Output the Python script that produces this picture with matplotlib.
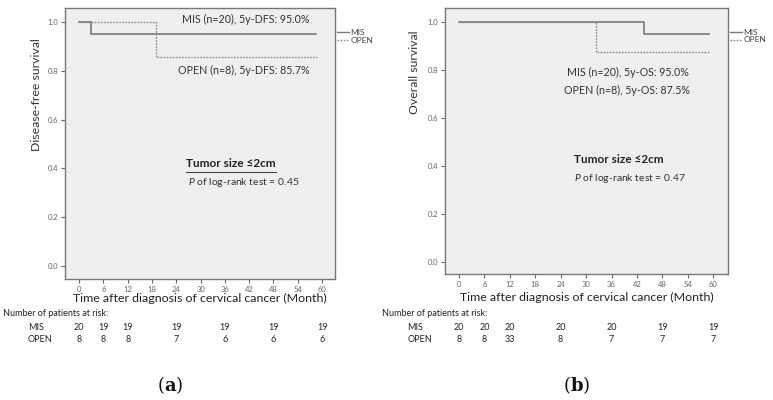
import matplotlib
matplotlib.use("Agg")
import matplotlib.pyplot as plt
from matplotlib.lines import Line2D
import matplotlib.transforms as mtransforms

plt.rcParams['font.family'] = ['Lato', 'DejaVu Sans']
plt.rcParams['mathtext.fontset'] = 'custom'
plt.rcParams['mathtext.it'] = 'Lato:italic'
plt.rcParams['mathtext.bf'] = 'DejaVu Serif:bold'
plt.rcParams['mathtext.rm'] = 'DejaVu Serif'

# survival curves (month, survival)
dfs_mis_t = [0, 3, 58.5]
dfs_mis_s = [1.0, 0.95, 0.95]
dfs_open_t = [0, 19, 58.8]
dfs_open_s = [1.0, 0.857, 0.857]

os_mis_t = [0, 43.7, 59]
os_mis_s = [1.0, 0.95, 0.95]
os_open_t = [0, 32.4, 59]
os_open_s = [1.0, 0.875, 0.875]

x_ticks = [0, 6, 12, 18, 24, 30, 36, 42, 48, 54, 60]
y_ticks = [0.0, 0.2, 0.4, 0.6, 0.8, 1.0]

# number at risk
risk_months = [0, 6, 12, 24, 36, 48, 60]
dfs_risk_mis = [20, 19, 19, 19, 19, 19, 19]
dfs_risk_open = [8, 8, 8, 7, 6, 6, 6]
os_risk_mis = [20, 20, 20, 20, 20, 19, 19]
os_risk_open = [8, 8, 33, 8, 7, 7, 7]

panels = [
    dict(rect=[0.0841, 0.3025, 0.3493, 0.6775], ylabel="Disease-free survival",
         ylab_xy=(-0.085, 0.68), xlab_y=-0.052,
         mis=(dfs_mis_t, dfs_mis_s), opn=(dfs_open_t, dfs_open_s),
         xlim=(-3.5, 63.2), ylim=(-0.053, 1.057),
         mis_txt="MIS (n=20), 5y-DFS: 95.0%", mis_pos=(57, 1.008, 'right'),
         open_txt="OPEN (n=8), 5y-DFS: 85.7%", open_pos=(57, 0.803, 'right'),
         tumor_pos=(37.5, 0.421), p_txt="0.45", p_pos=(40.7, 0.343), underline=True,
         risk_mis=dfs_risk_mis, risk_open=dfs_risk_open,
         head_x=0.004, lab_x=0.036, tag="a", tag_x=0.22),
    dict(rect=[0.5757, 0.315, 0.3661, 0.665], ylabel="Overall survival",
         ylab_xy=(-0.088, 0.76), xlab_y=-0.068,
         mis=(os_mis_t, os_mis_s), opn=(os_open_t, os_open_s),
         xlim=(-3.3, 63.5), ylim=(-0.05, 1.058),
         mis_txt="MIS (n=20), 5y-OS: 95.0%", mis_pos=(39.8, 0.79, 'center'),
         open_txt="OPEN (n=8), 5y-OS: 87.5%", open_pos=(39.7, 0.7125, 'center'),
         tumor_pos=(37.7, 0.425), p_txt="0.47", p_pos=(40.4, 0.346), underline=False,
         risk_mis=os_risk_mis, risk_open=os_risk_open,
         head_x=0.494, lab_x=0.527, tag="b", tag_x=0.746),
]

fig = plt.figure(figsize=(7.73, 4.0), dpi=100)

for p in panels:
    ax = fig.add_axes(p['rect'])
    ax.set_facecolor('#efefef')
    for sp in ax.spines.values():
        sp.set_color('#777777')
        sp.set_linewidth(1.0)

    ax.step(p['mis'][0], p['mis'][1], where='post', color='#7a7a7a', lw=1.2)
    ax.step(p['opn'][0], p['opn'][1], where='post', color='#8a8a8a', lw=1.0,
            linestyle=(0, (1.2, 1.0)))

    ax.set_xlim(*p['xlim'])
    ax.set_ylim(*p['ylim'])
    ax.set_xticks(x_ticks)
    ax.set_yticks(y_ticks)
    ax.set_yticklabels([f"{v:.1f}" for v in y_ticks])
    ax.tick_params(length=3, width=0.8, color='#666666', labelsize=5.5,
                   labelcolor='#666666', pad=2)

    ax.set_ylabel(p['ylabel'], fontsize=8.8, color='#333333')
    ax.yaxis.set_label_coords(*p['ylab_xy'])
    ax.set_xlabel("Time after diagnosis of cervical cancer (Month)", fontsize=8.9,
                  color='#222222')
    ax.xaxis.set_label_coords(0.5, p['xlab_y'])

    mx, my, mha = p['mis_pos']
    ax.text(mx, my, p['mis_txt'], ha=mha, va='center', fontsize=7.7, color='#333333')
    ox, oy, oha = p['open_pos']
    ax.text(ox, oy, p['open_txt'], ha=oha, va='center', fontsize=7.7, color='#333333')

    t = ax.text(p['tumor_pos'][0], p['tumor_pos'][1], "Tumor size ≤2cm", ha='center',
                va='center', fontsize=8.5, fontweight='bold', color='#222222')
    if p['underline']:
        fig.canvas.draw()
        bb = t.get_window_extent().transformed(ax.transAxes.inverted())
        ax.plot([bb.x0, bb.x1], [bb.y0 - 0.012, bb.y0 - 0.012], transform=ax.transAxes,
                color='#444444', lw=0.8, clip_on=False)
    ax.text(p['p_pos'][0], p['p_pos'][1], "$\\it{P}$ of log-rank test = " + p['p_txt'],
            ha='center', va='center', fontsize=7.5, color='#333333')

    handles = [Line2D([], [], color='#7a7a7a', lw=1.0),
               Line2D([], [], color='#8a8a8a', lw=1.0, linestyle=(0, (1.2, 1.0)))]
    ax.legend(handles, ["MIS", "OPEN"], loc='upper left', bbox_to_anchor=(0.995, 0.935),
              frameon=False, fontsize=6, handlelength=1.4, handletextpad=0.2,
              labelspacing=0.1, borderaxespad=0, labelcolor='#444444')

    # number at risk table
    tr = mtransforms.blended_transform_factory(ax.transData, fig.transFigure)
    fig.text(p['head_x'], 0.215, "Number of patients at risk:", ha='left', va='center',
             fontsize=6.5, color='#222222')
    fig.text(p['lab_x'], 0.1825, "MIS", ha='left', va='center', fontsize=6.5,
             color='#222222')
    fig.text(p['lab_x'], 0.15, "OPEN", ha='left', va='center', fontsize=6.5,
             color='#222222')
    for m, a, b in zip(risk_months, p['risk_mis'], p['risk_open']):
        ax.text(m, 0.1825, str(a), transform=tr, ha='center', va='center',
                fontsize=6.5, color='#222222')
        ax.text(m, 0.15, str(b), transform=tr, ha='center', va='center',
                fontsize=6.5, color='#222222')

    fig.text(p['tag_x'], 0.0375, "($\\mathbf{" + p['tag'] + "}$)", ha='center',
             va='center', fontsize=13, family='DejaVu Serif', color='#111111')

fig.savefig("out.png", dpi=100)
